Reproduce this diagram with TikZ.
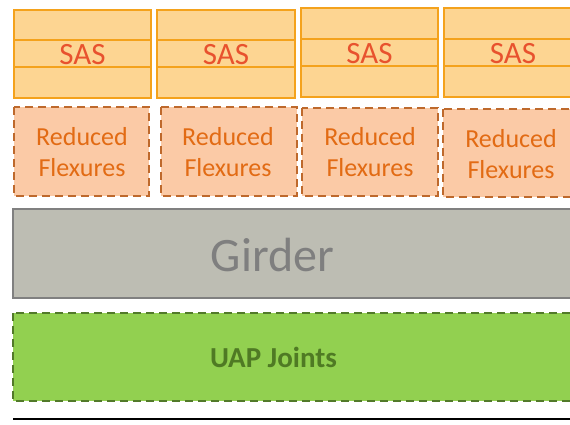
\documentclass[tikz,border=0pt]{standalone}
\usepackage{fontspec}
\setmainfont{Carlito}
\usetikzlibrary{calc}
\definecolor{sasfill}{HTML}{FDD592}
\definecolor{sasline}{HTML}{F4A21C}
\definecolor{sastext}{HTML}{E8522E}
\definecolor{rffill}{HTML}{FBCAA6}
\definecolor{rfline}{HTML}{BE692C}
\definecolor{rftext}{HTML}{E26B14}
\definecolor{gfill}{HTML}{BDBDB3}
\definecolor{gline}{HTML}{808080}
\definecolor{gtext}{HTML}{7F7F7F}
\definecolor{ufill}{HTML}{92D050}
\definecolor{uline}{HTML}{527A2A}
\definecolor{utext}{HTML}{4F7A24}
\begin{document}
\begin{tikzpicture}[x=1pt,y=-1pt,
  sasbox/.style={draw=sasline,fill=sasfill,line width=2.5pt},
  sastxt/.style={text=sastext,font=\fontsize{31}{34}\selectfont},
  rfbox/.style={draw=rfline,fill=rffill,line width=2.5pt,dash pattern=on 8pt off 5pt},
  rftxt/.style={text=rftext,align=center,font=\fontsize{26}{31}\selectfont},
  girderbox/.style={draw=gline,fill=gfill,line width=2.5pt},
  uapbox/.style={draw=uline,fill=ufill,line width=2.5pt,dash pattern=on 8pt off 5pt}]
\useasboundingbox (0,0) rectangle (570,425);
\fill[white] (0,0) rectangle (570,425);
\clip (0,0) rectangle (570,425);
% SAS boxes
\foreach \i/\l/\r/\t/\b/\la/\lb in {1/14/151/10/98/40/67, 2/157/295/10/98/40/67, 3/301/438/8/97/39/66, 4/444/600/8/97/39/66}{
  \path[sasbox] (\l,\t) rectangle (\r,\b);
  \draw[sasline,line width=2.5pt] (\l,\la) -- (\r,\la) (\l,\lb) -- (\r,\lb);
}
\node[sastxt] (sas1) at (82.5,54.5) {SAS};
\node[sastxt] (sas2) at (226,54.5) {SAS};
\node[sastxt] (sas3) at (369.5,53.5) {SAS};
\node[sastxt] (sas4) at (513,53.5) {SAS};
% Reduced flexures
\path[rfbox] (14,107) rectangle (149,196);
\path[rfbox] (161,107) rectangle (297,196);
\path[rfbox] (302,108) rectangle (438,196);
\path[rfbox] (443,109) rectangle (600,197);
\node[rftxt] (rf1) at (82,152) {Reduced\\Flexures};
\node[rftxt] (rf2) at (228,152) {Reduced\\Flexures};
\node[rftxt] (rf3) at (370,152) {Reduced\\Flexures};
\node[rftxt] (rf4) at (511,154) {Reduced\\Flexures};
% Girder
\path[girderbox] (13,209) rectangle (600,298);
\node[text=gtext,font=\fontsize{48}{54}\selectfont] (girder) at (272.5,255) {Girder};
% UAP joints
\path[uapbox] (13,313) rectangle (600,401);
\node[text=utext,font=\bfseries\fontsize{29}{34}\selectfont] (uap) at (273.5,357) {UAP Joints};
% base line
\draw[black,line width=2pt] (13,419) -- (600,419);
\end{tikzpicture}
\end{document}
